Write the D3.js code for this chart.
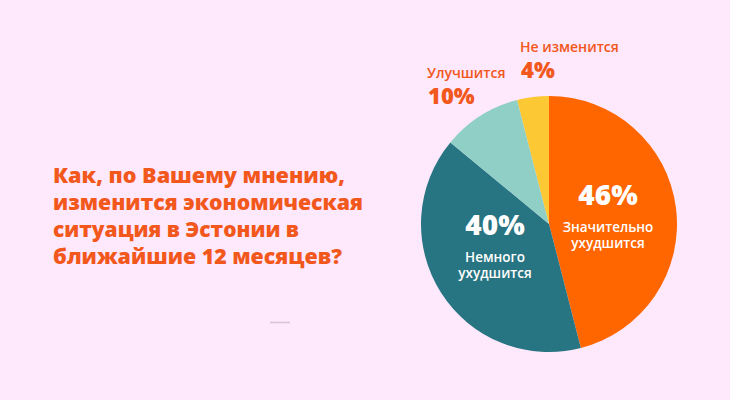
<!DOCTYPE html>
<html lang="ru">
  <head>
    <meta charset="utf-8">
    <title>Экономическая ситуация в Эстонии</title>
    <script src="https://cdn.jsdelivr.net/npm/d3@7"></script>
    <style>
    body { margin: 0; background: #fde8fc; }
    svg { display: block; }
    </style>
  </head>
  <body>
    <script>
      // data
      var categories = ["Значительно ухудшится", "Немного ухудшится", "Улучшится", "Не изменится"];
      var values = [46, 40, 10, 4];
      var colors = ["#ff6600", "#277482", "#8fcfc6", "#fcc834"];
      var titleLines = ["Как, по Вашему мнению,", "изменится экономическая",
                        "ситуация в Эстонии в", "ближайшие 12 месяцев?"];

      var w = 730, h = 400;
      var cx = 549, cy = 224, r = 128;
      var font = "'Open Sans', sans-serif";
      var orange = "#f2571b";

      var svg = d3.select("body").append("svg")
                  .attr("width", w)
                  .attr("height", h);

      svg.append("rect")
         .attr("width", w).attr("height", h)
         .attr("fill", "#fde8fc");

      // title
      svg.append("g").selectAll("text")
         .data(titleLines)
         .enter()
         .append("text")
         .attr("x", 53)
         .attr("y", function(d, i) { return 183 + i * 27; })
         .attr("font-family", font)
         .attr("font-weight", 800)
         .attr("font-size", "21px")
         .attr("fill", orange)
         .attr("textLength", function(d, i) { return [292, 310, 246, 289][i]; })
         .attr("lengthAdjust", "spacingAndGlyphs")
         .text(function(d) { return d; });

      // small grey dash
      svg.append("line")
         .attr("x1", 270).attr("x2", 290)
         .attr("y1", 322.5).attr("y2", 322.5)
         .attr("stroke", "#d6c6d6")
         .attr("stroke-width", 1.5);

      // pie
      var pie = d3.pie().sort(null);
      var arc = d3.arc().innerRadius(0).outerRadius(r);
      var arcs = pie(values);

      var g = svg.append("g").attr("transform", "translate(" + cx + "," + cy + ")");
      g.selectAll("path")
       .data(arcs)
       .enter()
       .append("path")
       .attr("d", arc)
       .attr("fill", function(d, i) { return colors[i]; });

      // labels inside the big slices
      var inside = [
        {i: 0, x: 608, y: 205, lines: ["Значительно", "ухудшится"]},
        {i: 1, x: 495, y: 235, lines: ["Немного", "ухудшится"]}
      ];
      inside.forEach(function(d) {
        svg.append("text")
           .attr("x", d.x).attr("y", d.y)
           .attr("text-anchor", "middle")
           .attr("font-family", font)
           .attr("font-weight", 800)
           .attr("font-size", "28px")
           .attr("fill", "#fff")
           .text(values[d.i] + "%");
        svg.append("text")
           .attr("x", d.x)
           .attr("y", d.y + 27)
           .attr("text-anchor", "middle")
           .attr("font-family", font)
           .attr("font-weight", 600)
           .attr("font-size", "13.5px")
           .attr("fill", "#fff")
           .selectAll("tspan")
           .data(d.lines)
           .enter()
           .append("tspan")
           .attr("x", d.x)
           .attr("dy", function(t, k) { return k ? 16 : 0; })
           .text(function(t) { return t; });
      });

      // labels outside the small slices
      var outside = [
        {i: 2, x: 427, y: 78},
        {i: 3, x: 520, y: 52}
      ];
      outside.forEach(function(d) {
        svg.append("text")
           .attr("x", d.x).attr("y", d.y)
           .attr("font-family", font)
           .attr("font-weight", 600)
           .attr("font-size", "14px")
           .attr("fill", orange)
           .text(categories[d.i]);
        svg.append("text")
           .attr("x", d.x + 1).attr("y", d.y + 26)
           .attr("font-family", font)
           .attr("font-weight", 800)
           .attr("font-size", "22px")
           .attr("fill", orange)
           .text(values[d.i] + "%");
      });
    </script>
  </body>
</html>
